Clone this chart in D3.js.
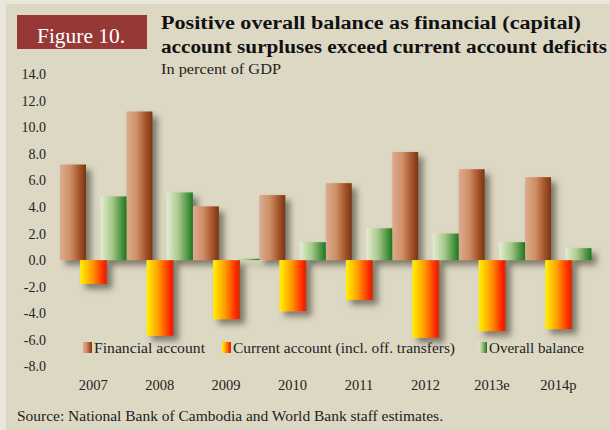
<!DOCTYPE html>
<html>
<head>
<meta charset="utf-8">
<script src="https://cdn.jsdelivr.net/npm/d3@7"></script>
<style>
  body { margin: 0; background: #e9e6da; }
  svg { display: block; font-family: "Liberation Serif", "DejaVu Serif", serif; }
</style>
</head>
<body>
<script>
// Chart data (percent of GDP)
const years = ['2007', '2008', '2009', '2010', '2011', '2012', '2013e', '2014p'];
const financial = [7.2, 11.2, 4.05, 4.9, 5.8, 8.15, 6.85, 6.25];
const current = [-1.8, -5.7, -4.45, -3.85, -3.0, -5.85, -5.35, -5.2];
const overall = [4.8, 5.1, 0.1, 1.35, 2.4, 2.0, 1.35, 0.9];
const seriesNames = ['Financial account', 'Current account (incl. off. transfers)', 'Overall balance'];
const yTicks = [-8, -6, -4, -2, 0, 2, 4, 6, 8, 10, 12, 14];

const width = 610, height = 430;

const x = d3.scaleBand().domain(years).range([60, 591.5]).padding(0);
const y = d3.scaleLinear().domain([-8, 14]).range([366.3, 74.3]);
const barW = 26;
const step = (x.bandwidth() - barW) / 2;

const svg = d3.select('body').append('svg')
    .attr('width', width)
    .attr('height', height);

const defs = svg.append('defs');

const shadow = defs.append('filter').attr('id', 'shadow')
    .attr('x', '-20%').attr('y', '-20%').attr('width', '160%').attr('height', '160%');
shadow.append('feDropShadow')
    .attr('dx', 5).attr('dy', 5).attr('stdDeviation', 3)
    .attr('flood-color', '#48453a').attr('flood-opacity', 0.65);

function gradient(id, stops) {
    const g = defs.append('linearGradient').attr('id', id)
        .attr('x1', '0%').attr('x2', '100%').attr('y1', '0%').attr('y2', '0%');
    stops.forEach(s => g.append('stop').attr('offset', s[0]).attr('stop-color', s[1]));
}
gradient('gFin', [['0%', '#dcac92'], ['40%', '#cf8f64'], ['75%', '#a5532a'], ['100%', '#783614']]);
gradient('gCur', [['0%', '#fff200'], ['45%', '#ff9a00'], ['92%', '#ff1500'], ['93%', '#c43a08'], ['100%', '#c43a08']]);
gradient('gOver', [['0%', '#e3edd5'], ['45%', '#a9c98a'], ['100%', '#1c781e']]);

// background panel
svg.append('rect')
    .attr('x', 6).attr('y', 4)
    .attr('width', width - 6).attr('height', height - 4)
    .attr('fill', '#ddd8c3');

// figure tag
svg.append('rect')
    .attr('x', 17).attr('y', 15)
    .attr('width', 130).attr('height', 34)
    .attr('fill', '#963836');
svg.append('text')
    .attr('x', 81).attr('y', 43)
    .attr('text-anchor', 'middle')
    .attr('fill', '#fff')
    .attr('font-size', 20.5)
    .attr('textLength', 88).attr('lengthAdjust', 'spacingAndGlyphs')
    .text('Figure 10.');

// titles
svg.append('text')
    .attr('x', 161).attr('y', 29)
    .attr('font-size', 18).attr('font-weight', 'bold').attr('fill', '#111')
    .attr('textLength', 420).attr('lengthAdjust', 'spacingAndGlyphs')
    .text('Positive overall balance as financial (capital)');
svg.append('text')
    .attr('x', 161).attr('y', 53)
    .attr('font-size', 18).attr('font-weight', 'bold').attr('fill', '#111')
    .attr('textLength', 446).attr('lengthAdjust', 'spacingAndGlyphs')
    .text('account surpluses exceed current account deficits');
svg.append('text')
    .attr('x', 161).attr('y', 74)
    .attr('font-size', 14.5).attr('fill', '#222')
    .attr('textLength', 120).attr('lengthAdjust', 'spacingAndGlyphs')
    .text('In percent of GDP');

// y axis labels
const yAxis = d3.axisLeft(y)
    .tickValues(yTicks)
    .tickFormat(d => d.toFixed(1))
    .tickSize(0)
    .tickPadding(14);
const yg = svg.append('g')
    .attr('transform', 'translate(60,0)')
    .call(yAxis);
yg.select('.domain').remove();
yg.selectAll('text')
    .attr('font-family', '"Liberation Serif", serif')
    .attr('font-size', 14)
    .attr('fill', '#222');

// bars
const bars = svg.append('g').attr('filter', 'url(#shadow)');
const series = [
    { values: financial, fill: 'url(#gFin)', w: barW },
    { values: current, fill: 'url(#gCur)', w: barW + 1 },
    { values: overall, fill: 'url(#gOver)', w: barW }
];
series.forEach((s, i) => {
    bars.selectAll(null)
        .data(years.map((yr, j) => ({ yr, v: s.values[j] })))
        .join('rect')
        .attr('x', d => x(d.yr) + i * step)
        .attr('y', d => y(Math.max(0, d.v)))
        .attr('width', s.w)
        .attr('height', d => Math.abs(y(d.v) - y(0)))
        .attr('fill', s.fill);
});

// zero line
svg.append('line')
    .attr('x1', 60).attr('x2', 591.5)
    .attr('y1', y(0)).attr('y2', y(0))
    .attr('stroke', '#5a5a55').attr('stroke-width', 2)
    .attr('filter', 'url(#shadow)');

// legend
const legend = svg.append('g').attr('transform', 'translate(0,348)');
const legendX = [83, 222, 478];
const legendLen = [111, 222, 95];
const legendFill = ['url(#gFin)', 'url(#gCur)', 'url(#gOver)'];
seriesNames.forEach((name, i) => {
    legend.append('rect')
        .attr('x', legendX[i]).attr('y', -6)
        .attr('width', 9).attr('height', 11)
        .attr('fill', legendFill[i]);
    legend.append('text')
        .attr('x', legendX[i] + 11).attr('y', 4.5)
        .attr('font-size', 15).attr('fill', '#222')
        .attr('textLength', legendLen[i]).attr('lengthAdjust', 'spacingAndGlyphs')
        .text(name);
});

// x labels
const xAxis = d3.axisBottom(x).tickSize(0).tickPadding(0);
const xg = svg.append('g')
    .attr('transform', 'translate(0,380)')
    .call(xAxis);
xg.select('.domain').remove();
xg.selectAll('text')
    .attr('font-family', '"Liberation Serif", serif')
    .attr('font-size', 14.5)
    .attr('fill', '#222');

// source
svg.append('text')
    .attr('x', 17).attr('y', 421)
    .attr('font-size', 15).attr('fill', '#222')
    .attr('textLength', 426).attr('lengthAdjust', 'spacingAndGlyphs')
    .text('Source: National Bank of Cambodia and World Bank staff estimates.');
</script>
</body>
</html>
